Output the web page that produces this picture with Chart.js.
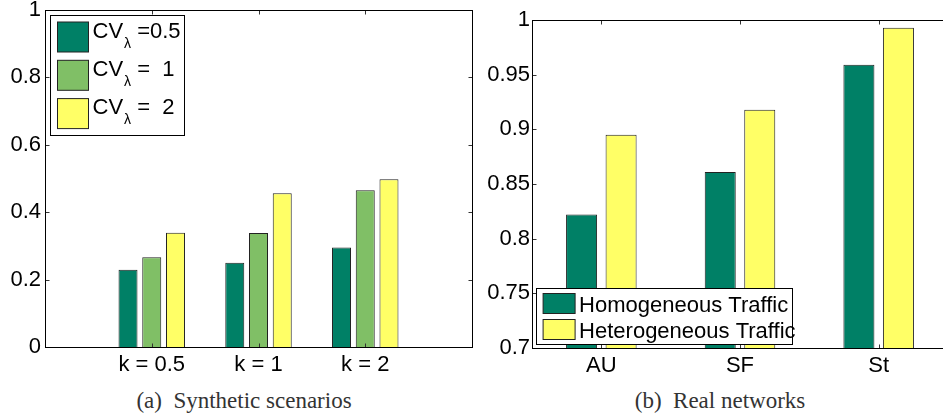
<!DOCTYPE html>
<html>
<head>
<meta charset="utf-8">
<script src="https://cdn.jsdelivr.net/npm/chart.js@4"></script>
<style>
    html, body { margin: 0; padding: 0; background: #fff; overflow: hidden; }
    body { width: 943px; height: 418px; position: relative; }
    canvas { position: absolute; top: 0; }
    #sinteticos { left: 0; }
    #reales { left: 480px; }
    .cap {
        position: absolute;
        top: 389px;
        font-family: "Liberation Serif", serif;
        font-size: 23px;
        line-height: 23px;
        color: #333;
        white-space: pre;
        transform: translateX(-50%);
    }
</style>
</head>
<body>
<canvas id="sinteticos" width="480" height="380"></canvas>
<canvas id="reales" width="470" height="380"></canvas>
<div class="cap" style="left:244px">(a)  Synthetic scenarios</div>
<div class="cap" style="left:720px">(b)  Real networks</div>
<script>
// (a) synthetic scenarios
const kCategorias = ["k = 0.5", "k = 1", "k = 2"];
const cvEtiquetas = ["CVλ =0.5", "CVλ =  1", "CVλ =  2"];
const cv05 = [0.229, 0.25, 0.295];
const cv1 = [0.266, 0.338, 0.465];
const cv2 = [0.339, 0.456, 0.498];
const ticksA = [0, 0.2, 0.4, 0.6, 0.8, 1];

// (b) real networks
const redes = ["AU", "SF", "St"];
const traficoEtiquetas = ["Homogeneous Traffic", "Heterogeneous Traffic"];
const homogeneo = [0.822, 0.861, 0.959];
const heterogeneo = [0.895, 0.918, 0.993];
const ticksB = [0.7, 0.75, 0.8, 0.85, 0.9, 0.95, 1];

// matlab "summer" colours
const oscuro = "rgb(0,128,102)";
const medio = "rgb(128,191,102)";
const amarillo = "rgb(255,255,102)";

const fuente = "'Liberation Sans', Arial, sans-serif";

function fmt(v) {
    return String(+Number(v).toFixed(2));
}

// frame with inward ticks + legend box, like the matlab figure
const marco = {
    id: "marco",
    afterDatasetsDraw(chart, args, opts) {
        const ctx = chart.ctx;
        const a = chart.chartArea;
        const sx = chart.scales.x;
        const sy = chart.scales.y;
        const L = Math.round(a.left) + 0.5;
        const R = Math.round(a.right) + 0.5;
        const T = Math.round(a.top) + 0.5;
        const B = Math.round(a.bottom) + 0.5;
        const tl = 4;

        ctx.save();
        ctx.lineWidth = 1;
        ctx.strokeStyle = "#333";
        ctx.beginPath();
        sy.ticks.forEach((t) => {
            const y = Math.round(sy.getPixelForValue(t.value)) + 0.5;
            ctx.moveTo(L, y); ctx.lineTo(L + tl, y);
            ctx.moveTo(R, y); ctx.lineTo(R - tl, y);
        });
        sx.ticks.forEach((t, i) => {
            if (!sx.getLabelForValue(t.value)) return;
            const x = Math.round(sx.getPixelForTick(i)) + 0.5;
            ctx.moveTo(x, T); ctx.lineTo(x, T + tl);
            ctx.moveTo(x, B); ctx.lineTo(x, B - tl);
        });
        ctx.stroke();

        ctx.strokeStyle = "#000";
        ctx.strokeRect(L, T, R - L, B - T);

        // legend
        const lg = opts.leyenda;
        const bx = Math.round(a.left + lg.dx) + 0.5;
        const by = Math.round(lg.desdeAbajo ? a.bottom - lg.dy - lg.h : a.top + lg.dy) + 0.5;
        ctx.fillStyle = "#fff";
        ctx.fillRect(bx, by, lg.w, lg.h);
        ctx.strokeRect(bx, by, lg.w, lg.h);

        chart.data.datasets.forEach((ds, i) => {
            const sy0 = by + lg.sy + i * lg.paso;
            ctx.fillStyle = ds.backgroundColor;
            ctx.fillRect(bx + lg.sx, sy0, lg.sw, lg.sh);
            ctx.strokeStyle = "#222";
            ctx.strokeRect(bx + lg.sx, sy0, lg.sw, lg.sh);

            ctx.fillStyle = "#000";
            ctx.textBaseline = "alphabetic";
            ctx.textAlign = "left";
            ctx.font = lg.tam + "px " + fuente;
            let x = bx + lg.tx;
            const base = sy0 + lg.base;
            const partes = lg.sub ? ds.label.split(lg.sub) : [ds.label];
            ctx.fillText(partes[0], x, base);
            if (partes.length > 1) {
                x += ctx.measureText(partes[0]).width;
                ctx.font = lg.subTam + "px " + fuente;
                ctx.fillText(lg.sub, x + 1, base + lg.subBaja);
                x += ctx.measureText(lg.sub).width + 1;
                ctx.font = lg.tam + "px " + fuente;
                ctx.fillText(partes[1], x, base);
            }
        });
        ctx.restore();
    },
};

function escalaX(ajusteAlto) {
    return {
        grid: { display: false, drawTicks: false },
        border: { display: false },
        ticks: {
            autoSkip: false,
            maxRotation: 0,
            padding: 5,
            color: "#000",
            font: { family: fuente, size: 22 },
        },
        afterFit: function (scale) {
            scale.height = ajusteAlto;
            scale.paddingLeft = 0;
            scale.paddingRight = 0;
        },
    };
}

function escalaY(min, max, paso, ancho, pad) {
    return {
        min: min,
        max: max,
        grid: { display: false, drawTicks: false },
        border: { display: false },
        ticks: {
            stepSize: paso,
            padding: pad,
            color: "#000",
            font: { family: fuente, size: 22 },
            callback: function (value) {
                return fmt(value);
            },
        },
        afterFit: function (scale) {
            scale.width = ancho;
            scale.paddingTop = 0;
            scale.paddingBottom = 0;
        },
    };
}

// empty slot each side so groups sit at 1,2,3 on a 0..4 axis
const conHueco = (arr) => [null, ...arr, null];

new Chart(document.getElementById("sinteticos"), {
    type: "bar",
    data: {
        labels: ["", ...kCategorias, ""],
        datasets: [
            { label: cvEtiquetas[0], data: conHueco(cv05), backgroundColor: oscuro },
            { label: cvEtiquetas[1], data: conHueco(cv1), backgroundColor: medio },
            { label: cvEtiquetas[2], data: conHueco(cv2), backgroundColor: amarillo },
        ],
    },
    options: {
        responsive: false,
        animation: false,
        events: [],
        layout: { padding: { top: 10, right: 8, left: 0, bottom: 0 } },
        datasets: {
            bar: {
                borderColor: "#222",
                borderWidth: 1,
                categoryPercentage: 0.667,
                barPercentage: 0.8,
            },
        },
        scales: {
            x: Object.assign(escalaX(33), { offset: false }),
            y: escalaY(ticksA[0], ticksA[ticksA.length - 1], 0.2, 45, 4),
        },
        plugins: {
            legend: { display: false },
            tooltip: { enabled: false },
            marco: {
                leyenda: {
                    dx: 5, dy: 5, w: 134, h: 120, desdeAbajo: false,
                    sx: 7, sy: 6.5, sw: 31, sh: 30, paso: 38.3,
                    tx: 42, base: 15.5, tam: 22,
                    sub: "λ", subTam: 14, subBaja: 10,
                },
            },
        },
    },
    plugins: [marco],
});

new Chart(document.getElementById("reales"), {
    type: "bar",
    data: {
        labels: redes,
        datasets: [
            { label: traficoEtiquetas[0], data: homogeneo, backgroundColor: oscuro },
            { label: traficoEtiquetas[1], data: heterogeneo, backgroundColor: amarillo },
        ],
    },
    options: {
        responsive: false,
        animation: false,
        events: [],
        layout: { padding: { top: 20, right: 2, left: 0, bottom: 0 } },
        datasets: {
            bar: {
                borderColor: "#222",
                borderWidth: 1,
                categoryPercentage: 0.57,
                barPercentage: 0.785,
            },
        },
        scales: {
            x: escalaX(32),
            y: escalaY(ticksB[0], ticksB[ticksB.length - 1], 0.05, 52, 2),
        },
        plugins: {
            legend: { display: false },
            tooltip: { enabled: false },
            marco: {
                leyenda: {
                    dx: 4.4, dy: 4.4, w: 256, h: 56, desdeAbajo: true,
                    sx: 6.6, sy: 5, sw: 32, sh: 20, paso: 26,
                    tx: 42.6, base: 18, tam: 22,
                },
            },
        },
    },
    plugins: [marco],
});
</script>
</body>
</html>
